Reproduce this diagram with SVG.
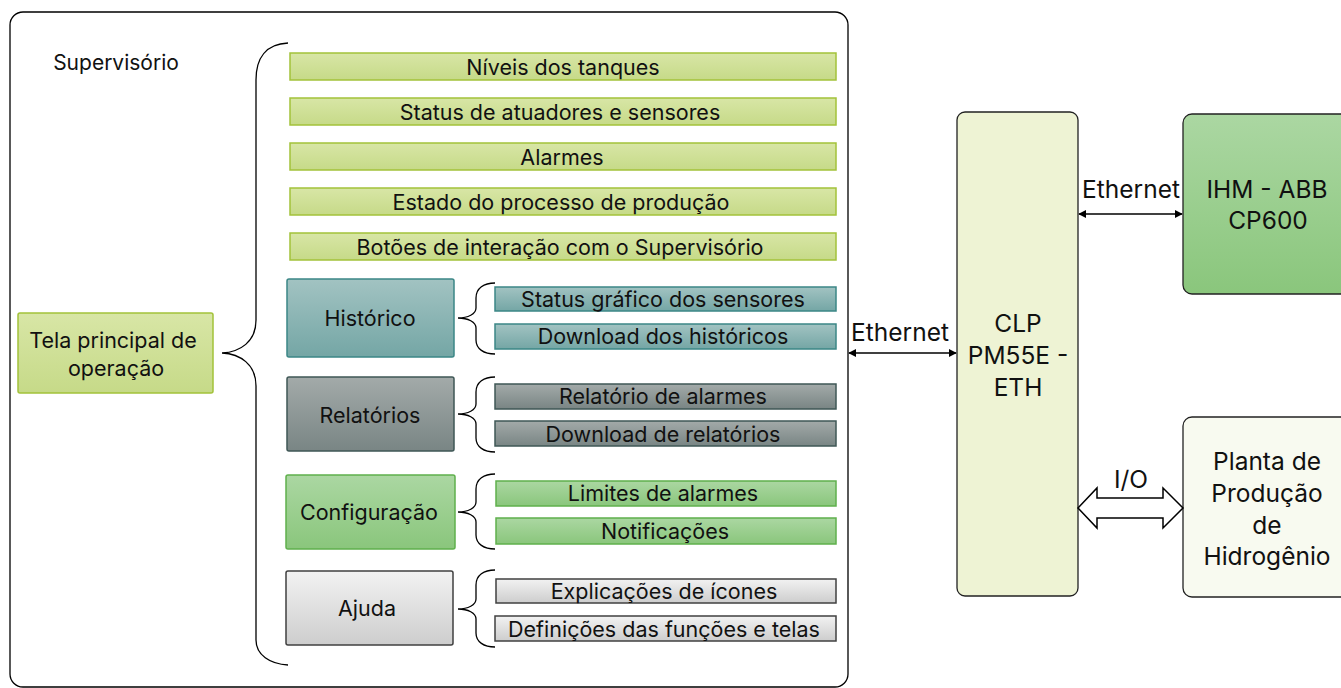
<svg xmlns="http://www.w3.org/2000/svg" width="1341" height="688" viewBox="0 0 1341 688">
<defs>
<linearGradient id="gLime" x1="0" y1="0" x2="0" y2="1"><stop offset="0" stop-color="#D8E6A6"/><stop offset="1" stop-color="#C6DA88"/></linearGradient>
<linearGradient id="gTeal" x1="0" y1="0" x2="0" y2="1"><stop offset="0" stop-color="#A2C3C2"/><stop offset="1" stop-color="#74A6A5"/></linearGradient>
<linearGradient id="gGray" x1="0" y1="0" x2="0" y2="1"><stop offset="0" stop-color="#A3AAA9"/><stop offset="1" stop-color="#798584"/></linearGradient>
<linearGradient id="gGreen" x1="0" y1="0" x2="0" y2="1"><stop offset="0" stop-color="#ABD7A2"/><stop offset="1" stop-color="#8AC67C"/></linearGradient>
<linearGradient id="gLight" x1="0" y1="0" x2="0" y2="1"><stop offset="0" stop-color="#F2F2F2"/><stop offset="1" stop-color="#CDCDCD"/></linearGradient>
<marker id="ah" viewBox="0 0 10 10" refX="9" refY="5" markerWidth="8" markerHeight="8" markerUnits="userSpaceOnUse" orient="auto-start-reverse"><path d="M0,0 L10,5 L0,10 z" fill="#000"/></marker>
</defs>
<style>
text{font-family:Inter,"Open Sans","Liberation Sans",sans-serif;fill:#111;text-anchor:middle;dominant-baseline:central}
.lime{fill:url(#gLime);stroke:#A3C23A;stroke-width:1.5}
.teal{fill:url(#gTeal);stroke:#3B8786;stroke-width:1.5}
.gray{fill:url(#gGray);stroke:#3F5756;stroke-width:1.5}
.green{fill:url(#gGreen);stroke:#5FB04C;stroke-width:1.5}
.light{fill:url(#gLight);stroke:#404040;stroke-width:1.5}
.br{fill:none;stroke:#000;stroke-width:1.3}
.ts{font-size:21px}
.tm{font-size:21.5px}
.tl{font-size:24.5px}
</style>
<rect id="container" x="10" y="12" width="838" height="675" rx="13" fill="#fff" stroke="#000" stroke-width="1.3"/>
<text x="116" y="62" class="ts">Supervisório</text>

<g id="braces">
<path class="br" d="M288,43 C266,44 256,58 256,80 L256,320 C256,342 240,352 222,353 C240,354 256,364 256,386 L256,640 C256,655 270,664 288,665"/>
<path class="br" d="M495,283 C484,283 476,288 476,298 L476,308 C476,314 468,318 458,318 C468,318 476,322 476,328 L476,340 C476,349 484,354 495,354"/>
<path class="br" d="M495,377 C484,377 476,382 476,392 L476,404 C476,410 468,414 458,414 C468,414 476,418 476,424 L476,438 C476,447 484,452 495,452"/>
<path class="br" d="M495,474 C484,474 476,479 476,489 L476,502 C476,508 468,512 458,512 C468,512 476,516 476,522 L476,535 C476,544 484,549 495,549"/>
<path class="br" d="M495,570 C484,570 476,575 476,585 L476,599 C476,605 468,609 458,609 C468,609 476,613 476,619 L476,633 C476,642 484,647 495,647"/>
</g>

<g id="n-tela"><rect class="lime" x="18" y="313" width="195" height="80" rx="2"/><text x="113" y="340" class="tm">Tela principal de</text><text x="116" y="368" class="tm">operação</text></g>

<g id="n-niveis"><rect class="lime" x="290" y="53" width="546" height="27"/><text x="563" y="67" class="tm">Níveis dos tanques</text></g>
<g id="n-status"><rect class="lime" x="290" y="98" width="546" height="27"/><text x="560" y="112" class="tm">Status de atuadores e sensores</text></g>
<g id="n-alarmes"><rect class="lime" x="290" y="143" width="546" height="27"/><text x="562" y="157" class="tm">Alarmes</text></g>
<g id="n-estado"><rect class="lime" x="290" y="188" width="546" height="27"/><text x="561" y="202" class="tm">Estado do processo de produção</text></g>
<g id="n-botoes"><rect class="lime" x="290" y="233" width="546" height="27"/><text x="560" y="247" class="tm">Botões de interação com o Supervisório</text></g>

<g id="n-historico"><rect class="teal" x="287" y="279" width="167" height="78" rx="2"/><text x="370" y="318" class="tm">Histórico</text></g>
<g id="n-statusgraf"><rect class="teal" x="495" y="287" width="341" height="24"/><text x="663" y="299" class="tm">Status gráfico dos sensores</text></g>
<g id="n-downhist"><rect class="teal" x="495" y="324" width="341" height="25"/><text x="663" y="336" class="tm">Download dos históricos</text></g>

<g id="n-relatorios"><rect class="gray" x="287" y="377" width="167" height="74" rx="2"/><text x="370" y="415" class="tm">Relatórios</text></g>
<g id="n-relalarmes"><rect class="gray" x="495" y="384" width="341" height="25"/><text x="663" y="396" class="tm">Relatório de alarmes</text></g>
<g id="n-downrel"><rect class="gray" x="495" y="421" width="341" height="25"/><text x="663" y="434" class="tm">Download de relatórios</text></g>

<g id="n-config"><rect class="green" x="286" y="475" width="169" height="74" rx="2"/><text x="369" y="512" class="tm">Configuração</text></g>
<g id="n-limites"><rect class="green" x="496" y="481" width="340" height="25"/><text x="663" y="493" class="tm">Limites de alarmes</text></g>
<g id="n-notif"><rect class="green" x="496" y="518" width="340" height="26"/><text x="665" y="531" class="tm">Notificações</text></g>

<g id="n-ajuda"><rect class="light" x="286" y="571" width="167" height="74" rx="2"/><text x="367" y="608" class="tm">Ajuda</text></g>
<g id="n-explic"><rect class="light" x="496" y="579" width="340" height="24"/><text x="664" y="591" class="tm">Explicações de ícones</text></g>
<g id="n-defin"><rect class="light" x="495" y="616" width="341" height="25"/><text x="664" y="629" class="tm">Definições das funções e telas</text></g>

<g id="n-clp"><rect x="957" y="112" width="121" height="484" rx="8" fill="#EEF3D4" stroke="#222" stroke-width="1.3"/><text x="1018" y="323" class="tl">CLP</text><text x="1018" y="355" class="tl">PM55E -</text><text x="1018" y="387" class="tl">ETH</text></g>
<g id="n-ihm"><rect x="1183" y="114" width="170" height="180" rx="9" fill="url(#gGreen)" stroke="#222" stroke-width="1.3"/><text x="1267" y="189" class="tl">IHM - ABB</text><text x="1268" y="220" class="tl">CP600</text></g>
<g id="n-planta"><rect x="1183" y="417" width="170" height="180" rx="9" fill="#F8FAF0" stroke="#222" stroke-width="1.3"/><text x="1267" y="461" class="tl">Planta de</text><text x="1267" y="493" class="tl">Produção</text><text x="1267" y="525" class="tl">de</text><text x="1267" y="556" class="tl">Hidrogênio</text></g>

<g id="connectors">
<line x1="849" y1="353" x2="956" y2="353" stroke="#000" stroke-width="1.5" marker-start="url(#ah)" marker-end="url(#ah)"/>
<text x="900" y="332" class="tl">Ethernet</text>
<line x1="1079" y1="214" x2="1182" y2="214" stroke="#000" stroke-width="1.5" marker-start="url(#ah)" marker-end="url(#ah)"/>
<text x="1131" y="189" class="tl">Ethernet</text>
<path d="M1078,508 L1097,488 L1097,498 L1163,498 L1163,488 L1183,508 L1163,528 L1163,518 L1097,518 L1097,528 Z" fill="#fff" stroke="#000" stroke-width="1.5"/>
<text x="1131" y="479" class="tl">I/O</text>
</g>
</svg>
